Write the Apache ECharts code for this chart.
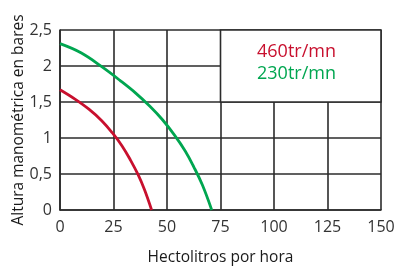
<!DOCTYPE html>
<html>
<head>
<meta charset="utf-8">
<script src="https://cdn.jsdelivr.net/npm/echarts@6/dist/echarts.min.js"></script>
<style>
  html, body { margin: 0; padding: 0; background: #fff; }
  #chart { width: 397px; height: 267px; }
</style>
</head>
<body>
<div id="chart"></div>
<script>
// curves: [hectolitros, bares]
var red460 = [[0, 1.67], [7, 1.54], [13.5, 1.4], [19.5, 1.24], [24.5, 1.07], [29, 0.89], [33, 0.69], [36.5, 0.49], [39.5, 0.28], [42.8, 0]];
var green230 = [[0, 2.31], [10, 2.18], [19.5, 1.99], [28, 1.8], [35.5, 1.62], [42, 1.44], [48, 1.25], [53.5, 1.04], [58.5, 0.82], [62.5, 0.6], [66.5, 0.35], [70.9, 0]];
var xTicks = [0, 25, 50, 75, 100, 125, 150];
var yTicks = [0, 0.5, 1, 1.5, 2, 2.5];
var legendNames = ['460tr/mn', '230tr/mn'];

var lineCol = '#2b2b2b';
var font = 'Open Sans';

var chart = echarts.init(document.getElementById('chart'));
chart.setOption({
  animation: false,
  grid: { left: 60, right: 16, top: 30, bottom: 57, outerBoundsMode: 'none', containLabel: false },
  xAxis: {
    type: 'value',
    min: 0, max: 150, interval: 25,
    name: 'Hectolitros por hora',
    nameLocation: 'middle',
    nameGap: 40,
    nameMoveOverlap: false,
    nameTextStyle: { fontFamily: font, fontSize: 15.5, color: '#1a1a1a' },
    axisLine: { show: true, lineStyle: { color: lineCol, width: 1.6 } },
    axisTick: { show: false },
    axisLabel: { fontFamily: font, fontSize: 16, color: '#333', margin: 9 },
    splitLine: { show: true, lineStyle: { color: lineCol, width: 1.6 } }
  },
  yAxis: {
    type: 'value',
    min: 0, max: 2.5, interval: 0.5,
    name: 'Altura manométrica en bares',
    nameLocation: 'middle',
    nameGap: 33,
    nameMoveOverlap: false,
    nameTextStyle: { fontFamily: font, fontSize: 15.5, color: '#1a1a1a' },
    axisLine: { show: true, lineStyle: { color: lineCol, width: 1.6 } },
    axisTick: { show: false },
    axisLabel: {
      fontFamily: font, fontSize: 16, color: '#333', margin: 8,
      formatter: function (v) { return String(v).replace('.', ','); }
    },
    splitLine: { show: true, lineStyle: { color: lineCol, width: 1.6 } }
  },
  series: [
    {
      name: legendNames[0],
      type: 'line',
      smooth: 0.4,
      symbol: 'none',
      data: red460,
      lineStyle: { color: '#c8102e', width: 2.8 },
      z: 3,
      markArea: {
        silent: true,
        itemStyle: { color: '#fff', borderColor: lineCol, borderWidth: 1.6 },
        data: [[{ coord: [75, 1.5] }, { coord: [150, 2.5] }]]
      }
    },
    {
      name: legendNames[1],
      type: 'line',
      smooth: 0.4,
      symbol: 'none',
      data: green230,
      lineStyle: { color: '#00a650', width: 2.8 },
      z: 3
    }
  ],
  graphic: [
    { type: 'text', left: 257, top: 43, z: 10,
      style: { text: legendNames[0], fill: '#c8102e', font: '18px "Open Sans"' } },
    { type: 'text', left: 257, top: 65, z: 10,
      style: { text: legendNames[1], fill: '#00a650', font: '18px "Open Sans"' } }
  ]
});
</script>
</body>
</html>
